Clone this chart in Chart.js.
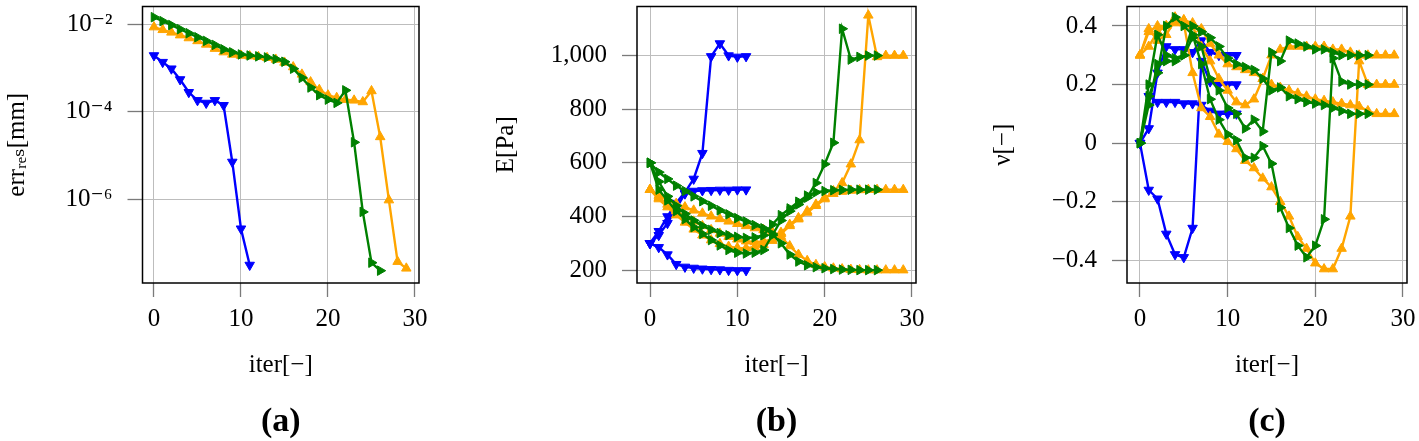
<!DOCTYPE html>
<html><head><meta charset="utf-8">
<script src="https://cdn.jsdelivr.net/npm/chart.js@4.4.1/dist/chart.umd.min.js"></script>
<style>
body{margin:0;background:#fff;width:1419px;height:441px;position:relative;overflow:hidden}
canvas{position:absolute;top:0}
</style></head>
<body>
<canvas id="ca" width="440" height="441" style="left:0px"></canvas>
<canvas id="cb" width="490" height="441" style="left:440px"></canvas>
<canvas id="cc" width="489" height="441" style="left:930px"></canvas>
<script>
// ---------- data ----------
const xTickValues = [0, 10, 20, 30];
const xTickLabels = ['0', '10', '20', '30'];

// (a) residual error [mm]
const errBlue = [1.95e-3, 1.37e-3, 9.7e-4, 5.5e-4, 2.8e-4, 1.83e-4, 1.59e-4, 1.83e-4, 1.41e-4, 7.1e-6, 2.1e-7, 3.1e-8];
const errOrange = [8.7e-3, 7.55e-3, 6.6e-3, 5.7e-3, 4.9e-3, 4.2e-3, 3.5e-3, 2.8e-3, 2.33e-3, 2.06e-3, 1.95e-3, 1.89e-3, 1.82e-3, 1.73e-3, 1.58e-3, 1.35e-3, 1.06e-3, 7.2e-4, 4.8e-4, 3.2e-4, 2.4e-4, 2.1e-4, 1.9e-4, 1.83e-4, 1.68e-4, 3.0e-4, 2.66e-5, 9.5e-7, 3.7e-8, 2.6e-8];
const errGreen = [1.47e-2, 1.19e-2, 9.7e-3, 7.8e-3, 6.3e-3, 5.1e-3, 4.2e-3, 3.4e-3, 2.7e-3, 2.3e-3, 2.06e-3, 1.95e-3, 1.86e-3, 1.76e-3, 1.61e-3, 1.40e-3, 9.7e-4, 6.0e-4, 3.6e-4, 2.4e-4, 1.9e-4, 1.6e-4, 3.1e-4, 2.0e-5, 5.1e-7, 3.5e-8, 2.3e-8];
const errTickValues = [1e-6, 1e-4, 1e-2];
const errTickLabels = ['10⁻⁶', '10⁻⁴', '10⁻²'];

// (b) Young's modulus E [Pa]
const eBlue1000 = [300, 345, 400, 450, 490, 540, 636, 997, 1045, 1000, 995, 997];
const eBlue500 = [300, 330, 375, 430, 485, 495, 497, 498, 499, 499, 500, 500];
const eBlue200 = [300, 285, 258, 222, 212, 208, 205, 203, 202, 200, 199, 199];
const eOrange200 = [500, 478, 462, 448, 435, 423, 412, 401, 391, 382, 373, 365, 357, 350, 343, 325, 290, 258, 235, 220, 212, 207, 204, 202, 201, 200, 200, 200, 200, 200];
const eOrange500 = [500, 470, 445, 420, 400, 382, 365, 350, 337, 325, 315, 308, 305, 307, 315, 340, 370, 395, 420, 445, 470, 485, 493, 497, 499, 500, 500, 500, 500, 500];
const eOrange1000 = [500, 465, 435, 405, 378, 352, 330, 312, 298, 288, 283, 282, 286, 295, 310, 335, 365, 390, 415, 440, 465, 495, 525, 595, 685, 1150, 995, 1000, 1000, 1000];
const eGreen200 = [600, 565, 540, 515, 495, 475, 457, 440, 423, 408, 394, 381, 368, 356, 335, 300, 258, 232, 218, 211, 207, 204, 202, 201, 200, 200, 200];
const eGreen500 = [600, 530, 475, 440, 410, 385, 365, 350, 338, 330, 324, 320, 322, 330, 370, 405, 430, 455, 478, 490, 495, 498, 499, 500, 500, 500, 500];
const eGreen1000 = [600, 500, 460, 420, 390, 360, 335, 312, 292, 275, 265, 262, 265, 275, 330, 385, 420, 445, 470, 525, 595, 675, 1100, 985, 995, 1000, 1000];
const eTickValues = [200, 400, 600, 800, 1000];
const eTickLabels = ['200', '400', '600', '800', '1,000'];

// (c) Poisson's ratio nu [-]
const nuBlue03 = [0, 0.05, 0.24, 0.33, 0.32, 0.32, 0.31, 0.35, 0.31, 0.30, 0.30, 0.30];
const nuBlue01 = [0, 0.16, 0.14, 0.14, 0.14, 0.135, 0.135, 0.13, 0.11, 0.10, 0.10, 0.10];
const nuBlue02 = [0, -0.16, -0.19, -0.31, -0.38, -0.39, -0.29, 0.28, 0.21, 0.20, 0.20, 0.20];
const nuOrange02 = [0.30, 0.39, 0.35, 0.37, 0.42, 0.41, 0.24, 0.12, 0.09, 0.03, 0.005, -0.02, -0.06, -0.085, -0.12, -0.15, -0.20, -0.25, -0.32, -0.36, -0.41, -0.43, -0.43, -0.36, -0.25, 0.28, 0.20, 0.20, 0.20, 0.20];
const nuOrange01 = [0.30, 0.38, 0.40, 0.40, 0.41, 0.42, 0.41, 0.39, 0.34, 0.30, 0.27, 0.26, 0.25, 0.24, 0.22, 0.20, 0.19, 0.18, 0.17, 0.16, 0.15, 0.145, 0.14, 0.135, 0.13, 0.125, 0.11, 0.10, 0.10, 0.10];
const nuOrange03 = [0.30, 0.33, 0.38, 0.40, 0.43, 0.42, 0.40, 0.33, 0.28, 0.22, 0.18, 0.14, 0.13, 0.15, 0.22, 0.30, 0.32, 0.33, 0.33, 0.33, 0.33, 0.33, 0.32, 0.32, 0.31, 0.30, 0.30, 0.30, 0.30, 0.30];
const nuGreen01 = [0, 0.13, 0.27, 0.28, 0.28, 0.30, 0.40, 0.38, 0.36, 0.33, 0.29, 0.27, 0.26, 0.25, 0.22, 0.18, 0.19, 0.16, 0.15, 0.14, 0.135, 0.13, 0.12, 0.11, 0.10, 0.10, 0.10];
const nuGreen03 = [0, 0.20, 0.37, 0.30, 0.29, 0.30, 0.36, 0.33, 0.22, 0.18, 0.12, 0.10, 0.05, 0.08, 0.04, 0.31, 0.28, 0.35, 0.34, 0.33, 0.32, 0.32, 0.31, 0.30, 0.30, 0.30, 0.30];
const nuGreen02 = [0, 0.16, 0.24, 0.40, 0.43, 0.40, 0.37, 0.27, 0.15, 0.08, 0.03, 0.01, -0.05, -0.05, -0.01, -0.07, -0.22, -0.29, -0.35, -0.39, -0.35, -0.26, 0.29, 0.21, 0.20, 0.20, 0.20];
const nuTickValues = [-0.4, -0.2, 0, 0.2, 0.4];
const nuTickLabels = ['−0.4', '−0.2', '0', '0.2', '0.4'];

// ---------- styling ----------
const FONT = "'Liberation Serif', 'DejaVu Serif', serif";
const BLUE = '#0000ff', ORANGE = '#ffa500', GREEN = '#008000';
const GRID = '#bdbdbd', TICK = '#7a7a7a';

function pts(arr) { return arr.map((v, i) => ({x: i, y: v})); }
function series(arr, color, rot, order) {
  return {data: pts(arr), borderColor: color, backgroundColor: color,
    pointStyle: 'triangle', pointRotation: rot, pointRadius: 5.5, pointHoverRadius: 5.5,
    pointBorderWidth: 1, borderWidth: 2.4, tension: 0, order: order};
}
const frame = {id: 'frame', afterDatasetsDraw(chart) {
  const {ctx, chartArea: a} = chart;
  ctx.save(); ctx.strokeStyle = '#000'; ctx.lineWidth = 1.5;
  ctx.strokeRect(a.left, a.top, a.right - a.left, a.bottom - a.top);
  ctx.restore();
}};

function makeChart(id, c) {
  new Chart(document.getElementById(id), {
    type: 'line',
    data: {datasets: c.datasets},
    options: {
      responsive: false, animation: false, devicePixelRatio: 1,
      layout: {padding: {top: c.top, right: c.right, bottom: 0, left: 0}},
      plugins: {
        legend: {display: false}, tooltip: {enabled: false},
        title: {display: true, text: c.label, position: 'bottom', fullSize: false, color: '#000',
          font: {family: FONT, size: 34, weight: 'bold', lineHeight: 1}, padding: {top: 0, bottom: 2}}
      },
      scales: {
        x: {type: 'linear', min: c.xmin, max: c.xmax,
          afterBuildTicks: s => { s.ticks = xTickValues.map(v => ({value: v})); },
          afterFit: s => { s.height = 122; s.paddingLeft = 0; s.paddingRight = 0; },
          ticks: {font: {family: FONT, size: 25}, color: '#000', padding: 7, maxRotation: 0,
            callback: (v, i) => xTickLabels[i]},
          grid: {color: GRID, lineWidth: 1, tickColor: TICK, tickLength: 14, tickWidth: 1.3},
          border: {display: false},
          title: {display: true, text: 'iter[−]', color: '#000', font: {family: FONT, size: 25},
            padding: {top: 0, bottom: 25}}},
        y: {type: c.ytype, min: c.ymin, max: c.ymax,
          afterBuildTicks: s => { s.ticks = c.yticks.map(v => ({value: v})); },
          afterFit: s => { s.width = c.yw; s.paddingTop = 0; s.paddingBottom = 0; },
          ticks: {font: {family: FONT, size: 25}, color: '#000', padding: 15,
            callback: (v, i) => c.ylabels[i]},
          grid: {color: GRID, lineWidth: 1, tickColor: TICK, tickLength: 15, tickWidth: 1.3},
          border: {display: false},
          title: {display: true, text: c.ytitle, color: '#000', font: {family: FONT, size: 25},
            padding: {top: c.ytitlePad, bottom: 0}}}
      }
    },
    plugins: [frame]
  });
}

makeChart('ca', {
  label: '(a)', top: 6, right: 21, yw: 142.5, xmin: -1.32, xmax: 30.46,
  ytype: 'logarithmic', ymin: 1.2e-8, ymax: 2.58e-2, yticks: errTickValues, ylabels: errTickLabels,
  ytitle: 'errᵣₑₛ[mm]', ytitlePad: 2,
  datasets: [series(errBlue, BLUE, 180, 2), series(errOrange, ORANGE, 0, 1), series(errGreen, GREEN, 90, 0)]
});
makeChart('cb', {
  label: '(b)', top: 3.5, right: 14, yw: 197, xmin: -1.49, xmax: 30.46,
  ytype: 'linear', ymin: 152, ymax: 1183, yticks: eTickValues, ylabels: eTickLabels,
  ytitle: 'E[Pa]', ytitlePad: 51,
  datasets: [series(eBlue1000, BLUE, 180, 2), series(eBlue500, BLUE, 180, 2), series(eBlue200, BLUE, 180, 2),
    series(eOrange200, ORANGE, 0, 1), series(eOrange500, ORANGE, 0, 1), series(eOrange1000, ORANGE, 0, 1),
    series(eGreen200, GREEN, 90, 0), series(eGreen500, GREEN, 90, 0), series(eGreen1000, GREEN, 90, 0)]
});
makeChart('cc', {
  label: '(c)', top: 3.5, right: 12, yw: 197, xmin: -1.48, xmax: 30.46,
  ytype: 'linear', ymin: -0.4776, ymax: 0.4665, yticks: nuTickValues, ylabels: nuTickLabels,
  ytitle: 'ν[−]', ytitlePad: 58,
  datasets: [series(nuBlue03, BLUE, 180, 2), series(nuBlue01, BLUE, 180, 2), series(nuBlue02, BLUE, 180, 2),
    series(nuOrange02, ORANGE, 0, 1), series(nuOrange01, ORANGE, 0, 1), series(nuOrange03, ORANGE, 0, 1),
    series(nuGreen01, GREEN, 90, 0), series(nuGreen03, GREEN, 90, 0), series(nuGreen02, GREEN, 90, 0)]
});
</script>
</body></html>
